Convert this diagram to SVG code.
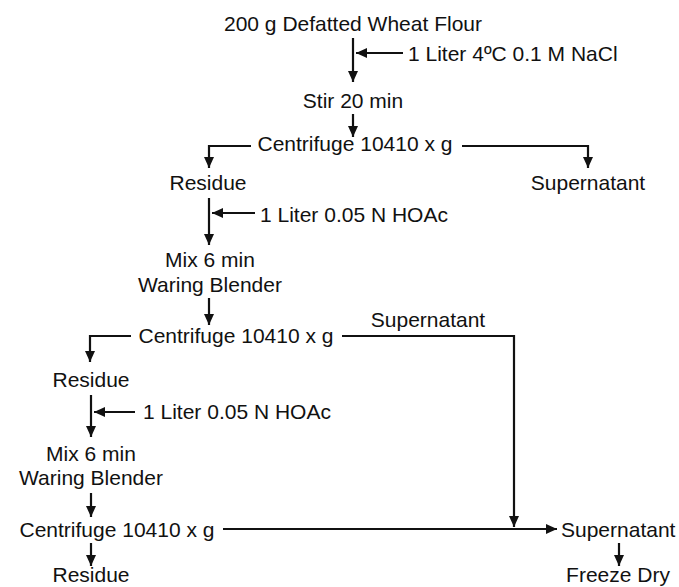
<svg xmlns="http://www.w3.org/2000/svg" width="679" height="587" viewBox="0 0 679 587">
<style>
text{font-family:"Liberation Sans",Arial,sans-serif;font-size:21px;fill:#111}
.c{text-anchor:middle}
.ln{fill:none;stroke:#111;stroke-width:2.2}
</style>
<defs>
<marker id="ah" viewBox="0 0 11 10" refX="11" refY="5" markerWidth="11" markerHeight="10" markerUnits="userSpaceOnUse" orient="auto">
<path d="M0,0 L11,5 L0,10 z" fill="#111"/>
</marker>
</defs>
<rect width="679" height="587" fill="#fff"/>
<g id="connectors">
<path class="ln" d="M353,38 V82" marker-end="url(#ah)"/>
<path class="ln" d="M403,53 H356" marker-end="url(#ah)"/>
<path class="ln" d="M353,114 V137" marker-end="url(#ah)"/>
<path class="ln" d="M251,146 H209 V168" marker-end="url(#ah)"/>
<path class="ln" d="M462,146 H588 V168" marker-end="url(#ah)"/>
<path class="ln" d="M209,198 V245" marker-end="url(#ah)"/>
<path class="ln" d="M255,213 H212" marker-end="url(#ah)"/>
<path class="ln" d="M209,298 V325" marker-end="url(#ah)"/>
<path class="ln" d="M131,336 H90 V362" marker-end="url(#ah)"/>
<path class="ln" d="M342,336 H514 V527" marker-end="url(#ah)"/>
<path class="ln" d="M91,395 V437" marker-end="url(#ah)"/>
<path class="ln" d="M135,412 H94" marker-end="url(#ah)"/>
<path class="ln" d="M91,493 V517" marker-end="url(#ah)"/>
<path class="ln" d="M223,529 H557" marker-end="url(#ah)"/>
<path class="ln" d="M619,543 V566" marker-end="url(#ah)"/>
<path class="ln" d="M91,543 V566" marker-end="url(#ah)"/>
</g>
<g id="flour"><text class="c" x="353" y="31">200 g Defatted Wheat Flour</text></g>
<g id="nacl"><text x="408" y="61">1 Liter 4ºC 0.1 M NaCl</text></g>
<g id="stir"><text class="c" x="353" y="108">Stir 20 min</text></g>
<g id="centrifuge1"><text class="c" x="355" y="151">Centrifuge 10410 x g</text></g>
<g id="residue1"><text class="c" x="208" y="190">Residue</text></g>
<g id="supernatant1"><text class="c" x="588" y="190">Supernatant</text></g>
<g id="hoac1"><text x="260" y="222">1 Liter 0.05 N HOAc</text></g>
<g id="mix1"><text class="c" x="210" y="267">Mix 6 min</text><text class="c" x="210" y="292">Waring Blender</text></g>
<g id="centrifuge2"><text class="c" x="236" y="343">Centrifuge 10410 x g</text></g>
<g id="supernatant2"><text class="c" x="428" y="327">Supernatant</text></g>
<g id="residue2"><text class="c" x="91" y="387">Residue</text></g>
<g id="hoac2"><text x="143" y="419">1 Liter 0.05 N HOAc</text></g>
<g id="mix2"><text class="c" x="91" y="461">Mix 6 min</text><text class="c" x="91" y="485">Waring Blender</text></g>
<g id="centrifuge3"><text class="c" x="117" y="537">Centrifuge 10410 x g</text></g>
<g id="supernatant3"><text x="561" y="537">Supernatant</text></g>
<g id="freezedry"><text class="c" x="618" y="582">Freeze Dry</text></g>
<g id="residue3"><text class="c" x="91" y="582">Residue</text></g>
</svg>
